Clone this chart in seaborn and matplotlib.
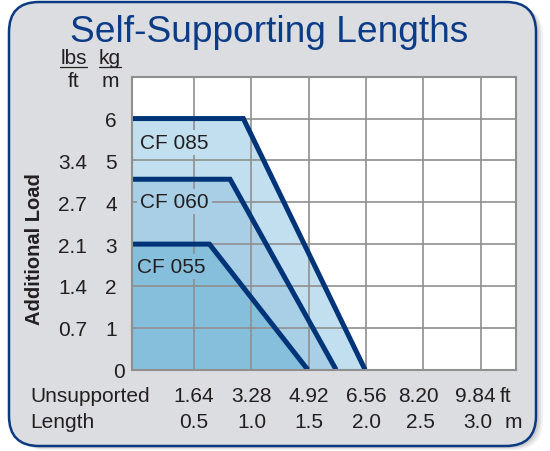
import pandas as pd
import seaborn as sns
import matplotlib.pyplot as plt
from matplotlib.patches import FancyBboxPatch
from matplotlib.lines import Line2D
from matplotlib.transforms import IdentityTransform, ScaledTranslation, blended_transform_factory

# values (length in m, load in kg/m)
# the curves start at the left edge of the plot
cf085_len = [-0.045, 0.929, 1.991]
cf085_load = [6, 6, 0]
cf060_len = [-0.045, 0.813, 1.738]
cf060_load = [4.55, 4.55, 0]
cf055_len = [-0.045, 0.633, 1.491]
cf055_load = [3, 3, 0]

m_ticks = [0.5, 1.0, 1.5, 2.0, 2.5, 3.0]
m_labels = ['0.5', '1.0', '1.5', '2.0', '2.5', '3.0']
ft_labels = ['1.64', '3.28', '4.92', '6.56', '8.20', '9.84']
kg_ticks = [0, 1, 2, 3, 4, 5, 6]
lbs_ticks = [1, 2, 3, 4, 5]
lbs_labels = ['0.7', '1.4', '2.1', '2.7', '3.4']

# colours
bg_gray = '#dcdde0'
navy = '#003479'
grid_gray = '#8f8f8f'
txt = '#231f20'
fills = {'CF 085': '#c1dfee', 'CF 060': '#a8cfe5', 'CF 055': '#86bfdc'}

df = pd.concat([
    pd.DataFrame({'length': cf085_len, 'load': cf085_load, 'series': 'CF 085'}),
    pd.DataFrame({'length': cf060_len, 'load': cf060_load, 'series': 'CF 060'}),
    pd.DataFrame({'length': cf055_len, 'load': cf055_load, 'series': 'CF 055'}),
])

sns.set_style('white')
plt.rcParams['font.family'] = ['Liberation Sans', 'DejaVu Sans']
fs = 15

fig = plt.figure(figsize=(5.5, 4.52), dpi=100, facecolor='white')
W, H = 550, 452

# rounded frame with a soft shadow (pixel coords)
for off, a in [(7, 0.10), (5, 0.15), (3, 0.2)]:
    fig.add_artist(FancyBboxPatch((9 + off, 5 - off * 0.6), 527, 444,
                                  boxstyle='round,pad=0,rounding_size=30',
                                  transform=IdentityTransform(), facecolor='#808080',
                                  edgecolor='none', alpha=a, zorder=-3))
fig.add_artist(FancyBboxPatch((9, 5), 527, 444, boxstyle='round,pad=0,rounding_size=30',
                              transform=IdentityTransform(), facecolor=bg_gray,
                              edgecolor='#0b3a82', linewidth=1.8, zorder=-2))

ax = fig.add_axes([131.7 / W, 1 - 370.7 / H, 384 / W, 293 / H])
ax.set_facecolor('white')

# stacked fills, largest first
for name in ['CF 085', 'CF 060', 'CF 055']:
    d = df[df['series'] == name]
    ax.fill_between(d['length'], d['load'], 0, color=fills[name], linewidth=0, zorder=1)

sns.lineplot(data=df, x='length', y='load', hue='series', palette={k: navy for k in fills},
             estimator=None, sort=False, legend=False, linewidth=3.6, ax=ax,
             solid_capstyle='butt', solid_joinstyle='miter', zorder=3)

ax.set_xlim(-0.045, 3.305)
ax.set_ylim(0, 7)
ax.set_xticks(m_ticks)
ax.set_xticklabels([])
ax.set_yticks(kg_ticks)
ax.set_yticklabels([str(v) for v in kg_ticks], fontsize=fs, color=txt)
ax.tick_params(length=0, axis='y', pad=10.6)
ax.tick_params(length=0, axis='x')
ax.yaxis.get_major_ticks()[0].set_pad(5.2)
ax.set_xlabel('')
ax.set_ylabel('')
ax.set_axisbelow(False)
ax.grid(True, color=grid_gray, linewidth=1.2)
for sp in ax.spines.values():
    sp.set_visible(True)
    sp.set_color(grid_gray)
    sp.set_linewidth(1.5)
    sp.set_zorder(3.5)

# series labels
label_pos = {'CF 085': (0.028, 5.42), 'CF 060': (0.028, 4.01), 'CF 055': (0.004, 2.46)}
for name, (x, y) in label_pos.items():
    ax.text(x, y, name, fontsize=15, color=txt, va='center', ha='left', zorder=4,
            bbox=dict(boxstyle='square,pad=0.15', facecolor=fills[name], edgecolor='none'))

# x labels: ft row and m row (last two columns sit a little left in the original)
xt = blended_transform_factory(ax.transData, ax.transAxes)
ft_dx = [0, 0, 0, 0, -5, -5]
m_dx = [0, 0, 0, 0, -3, -2.5]
for m, ftl, ml, d1, d2 in zip(m_ticks, ft_labels, m_labels, ft_dx, m_dx):
    ax.text(m, (370.7 - 401.7) / 293, ftl, ha='center', va='baseline', fontsize=fs, color=txt,
            clip_on=False, transform=xt + ScaledTranslation(d1 / 100, 0, fig.dpi_scale_trans))
    ax.text(m, (370.7 - 428) / 293, ml, ha='center', va='baseline', fontsize=fs, color=txt,
            clip_on=False, transform=xt + ScaledTranslation(d2 / 100, 0, fig.dpi_scale_trans))

# lbs/ft labels
yt = blended_transform_factory(ax.transAxes, ax.transData)
for v, l in zip(lbs_ticks, lbs_labels):
    ax.text((87 - 131.7) / 384, v, l, transform=yt, ha='right', va='center_baseline',
            fontsize=fs, color=txt, clip_on=False)

# header texts
def ftext(px, py, s, **kw):
    fig.text(px / W, 1 - py / H, s, color=txt, **kw)

fig.text(269.5 / W, 1 - 41.7 / H, 'Self-Supporting Lengths', ha='center', va='baseline',
         fontsize=26.7, color='#0d3c87')
ftext(73.5, 64, 'lbs', ha='center', va='baseline', fontsize=fs)
ftext(73.5, 86.7, 'ft', ha='center', va='baseline', fontsize=fs)
ftext(110, 64, 'kg', ha='center', va='baseline', fontsize=fs)
ftext(110, 86.7, 'm', ha='center', va='baseline', fontsize=fs)
for x0, x1 in [(60, 87), (99, 121)]:
    fig.add_artist(Line2D([x0 / W, x1 / W], [1 - 67.7 / H, 1 - 67.7 / H],
                          transform=fig.transFigure, color=txt, linewidth=0.9))
ftext(35, 249, 'Additional Load', ha='center', va='center', rotation=90,
      fontsize=14.5, fontweight='bold')
ftext(30, 401.7, 'Unsupported', ha='left', va='baseline', fontsize=fs)
ftext(30, 428, 'Length', ha='left', va='baseline', fontsize=fs)
ftext(499.5, 401.7, 'ft', ha='left', va='baseline', fontsize=fs)
ftext(505, 428, 'm', ha='left', va='baseline', fontsize=fs)

fig.savefig('out.png', dpi=100)
